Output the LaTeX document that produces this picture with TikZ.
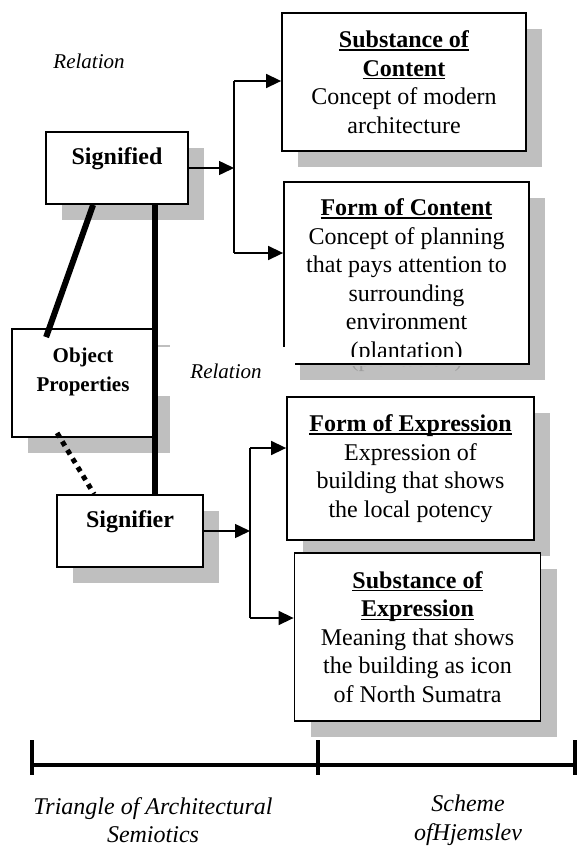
\documentclass[tikz,border=0pt]{standalone}
\usepackage{fontspec}
\setmainfont{Liberation Serif}
\usetikzlibrary{arrows.meta, shadows}

\newsavebox{\hdbox}
\newcommand{\headline}[1]{\sbox{\hdbox}{\bfseries #1}\rlap{\rule[-3pt]{\wd\hdbox}{1.3pt}}\usebox{\hdbox}}

\begin{document}
\begin{tikzpicture}[x=1pt, y=-1pt,
    box/.style={draw, line width=1.8pt, fill=white, inner sep=0pt,
        drop shadow={shadow xshift=16pt, shadow yshift=-16pt, opacity=1, fill=black!25}},
    txt/.style={font=\fontsize{24}{28.5}\selectfont, align=center, inner sep=0pt},
    note/.style={font=\fontsize{24}{28.5}\selectfont\itshape, align=center, inner sep=0pt},
    conn/.style={line width=1.5pt, -{Triangle[length=15pt, width=14pt]}},
    wire/.style={line width=1.5pt},
    bar/.style={line width=6pt},
    axis/.style={line width=3.5pt}]
    \useasboundingbox (0,0) rectangle (578,846);

    % Content side
    \node[box, txt, minimum width=244pt, minimum height=138pt] (subcontent) at (404,82)
        {\headline{Substance of}\\\headline{Content}\\Concept of modern\\architecture};
    \node[box, minimum width=245pt, minimum height=182pt] (formcontent) at (406.5,273) {};
    \begin{scope}
        \clip (formcontent.north west) rectangle ([yshift=8pt]formcontent.south east);
        \node[txt] (formcontenttxt) at ([yshift=-8pt]formcontent.center)
            {\headline{Form of Content}\\Concept of planning\\that pays attention to\\surrounding\\environment\\(plantation)};
    \end{scope}
    \begin{scope}
        \clip ([yshift=-1.5pt]formcontent.south west) rectangle ([xshift=17pt,yshift=-18pt]formcontent.south east);
        \node[txt, text=black!38] (ghosttxt) at (406.5,361) {(plantation)};
    \end{scope}

    % Triangle side
    \node[box, minimum width=142pt, minimum height=72pt] (signified) at (117,168) {};
    \node[txt, font=\fontsize{24}{28.5}\selectfont\bfseries] (signifiedtxt) at (117,159) {Signified};
    \node[box, minimum width=142pt, minimum height=108pt] (objprop) at (83,383) {};
    \node[txt, font=\fontsize{21}{29}\selectfont\bfseries] (objproptxt) at (83,372) {Object\\Properties};

    % Expression side
    \node[box, txt, minimum width=247pt, minimum height=143pt] (formexpr) at (410.5,468.5)
        {\headline{Form of Expression}\\Expression of\\building that shows\\the local potency};
    \node[box, txt, minimum width=246pt, minimum height=168pt] (subexpr) at (417.5,637)
        {\headline{Substance of}\\\headline{Expression}\\Meaning that shows\\the building as icon\\of North Sumatra};
    \node[box, minimum width=146pt, minimum height=72pt] (signifier) at (130,531) {};
    \node[txt, font=\fontsize{24}{28.5}\selectfont\bfseries] (signifiertxt) at (130,522) {Signifier};

    % Relation labels
    \node[note, font=\fontsize{21}{25}\selectfont\itshape] (relationA) at (89,61) {Relation};
    \node[note, font=\fontsize{21}{25}\selectfont\itshape, fill=white, minimum width=138pt,
        minimum height=49pt] (relationB) at (226,371.5) {Relation};

    % Branches
    \coordinate (splitAtop) at (234,81);
    \coordinate (splitAbot) at (234,253);
    \draw[conn] (signified.east) -- (signified.east -| splitAtop);
    \draw[wire] (splitAtop) -- (splitAbot);
    \draw[conn] (splitAtop) -- (splitAtop -| subcontent.west);
    \draw[conn] (splitAbot) -- (splitAbot -| formcontent.west);

    \coordinate (splitBtop) at (250,448);
    \coordinate (splitBbot) at (250,618);
    \draw[conn] (signifier.east) -- (signifier.east -| splitBtop);
    \draw[wire] (splitBtop) -- (splitBbot);
    \draw[conn] (splitBtop) -- (splitBtop -| formexpr.west);
    \draw[conn] (splitBbot) -- (splitBbot -| subexpr.west);

    % Triangle lines
    \draw[bar] ([xshift=48pt]signified.south west) -- ([xshift=35pt,yshift=-9pt]objprop.north west);
    \draw[bar] (signified.south -| objprop.east) -- (signifier.north -| objprop.east);
    \draw[line width=5pt, dash pattern=on 5pt off 5pt] ([xshift=46pt,yshift=5pt]objprop.south west)
        -- ([xshift=38pt]signifier.north west);

    % Scale bar
    \coordinate (axisL) at (32,765);
    \coordinate (axisM) at (318,765);
    \coordinate (axisR) at (575,765);
    \draw[axis] (axisL) -- (axisR);
    \foreach \p in {axisL, axisM, axisR}
        \draw[axis] ([yshift=25pt]\p) -- ([yshift=-10pt]\p);
    \node[note] (trianglelbl) at (153,820) {Triangle of Architectural\\Semiotics};
    \node[note] (schemelbl) at (468,820) {Scheme\\ofHjemslev};
\end{tikzpicture}
\end{document}
